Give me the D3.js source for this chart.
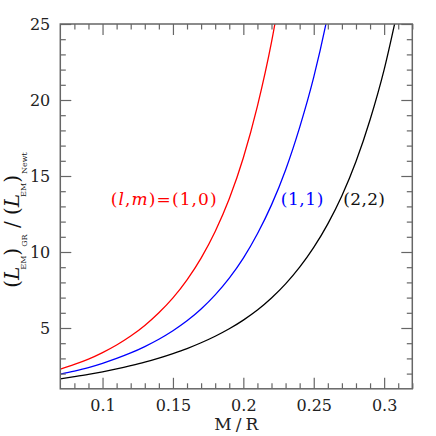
<!DOCTYPE html>
<html><head><meta charset="utf-8">
<script src="https://cdn.jsdelivr.net/npm/d3@7"></script>
<style>html,body{margin:0;padding:0;background:#fff}</style>
</head><body>
<svg id="c" width="436" height="436"></svg>
<script>
const xValues   = [0.07,0.08,0.09,0.10,0.11,0.12,0.13,0.14,0.15,0.16,0.17,0.18,0.19,0.20,0.21,0.22,0.23,0.24,0.25,0.26,0.27,0.28,0.29,0.30,0.31];
const series10  = [2.30,2.60,2.95,3.38,3.88,4.47,5.17,6.00,6.98,8.17,9.60,11.35,13.5,16.2,19.6,23.8,29.2];
const series11  = [1.97,2.17,2.40,2.68,3.00,3.36,3.78,4.26,4.82,5.47,6.25,7.18,8.28,9.60,11.2,13.1,15.4,18.2,21.5,25.6,30.6];
const series22  = [1.66,1.80,1.95,2.12,2.31,2.52,2.75,3.02,3.32,3.65,4.03,4.46,4.95,5.52,6.18,6.97,7.90,9.00,10.3,11.85,13.7,15.95,18.7,22.0,26.1];
const xTicks = [0.1,0.15,0.2,0.25,0.3];
const xTickLabels = ["0.1","0.15","0.2","0.25","0.3"];
const yTicks = [5,10,15,20,25];
const yTickLabels = ["5","10","15","20","25"];
const xDomain = [0.07,0.32];
const yDomain = [1,25];

const svg = d3.select("#c");
const L=60.3,R=412.3,T=24,B=388.8;
const x = d3.scaleLinear().domain(xDomain).range([L,R]);
const y = d3.scaleLinear().domain(yDomain).range([B,T]);
const frameColor="#666";
const font="DejaVu Serif";

svg.append("clipPath").attr("id","clip").append("rect")
  .attr("x",L).attr("y",T).attr("width",R-L).attr("height",B-T);

// curves
const curves=[{v:series10,c:"#ff0000"},{v:series11,c:"#0000ff"},{v:series22,c:"#000000"}];
const line=d3.line().x(d=>x(d[0])).y(d=>y(d[1])).curve(d3.curveMonotoneX);
curves.forEach(s=>{
  svg.append("path").attr("clip-path","url(#clip)")
    .attr("d",line(s.v.map((v,i)=>[xValues[i],v])))
    .attr("fill","none").attr("stroke",s.c).attr("stroke-width",1.3);
});

// axes with ticks on all four sides
const xMinor=d3.range(0.08,0.3201,0.01).map(v=>+v.toFixed(2)).filter(v=>!xTicks.some(t=>Math.abs(t-v)<1e-6));
const yMinor=d3.range(2,25,1).filter(v=>!yTicks.includes(v));
function ax(axisFn,scale,pos,ticks,size,fmt){
  const a=axisFn(scale).tickValues(ticks).tickSize(size).tickSizeOuter(0).tickFormat(fmt);
  const g=svg.append("g").attr("transform",pos).call(a);
  g.select(".domain").remove();
  g.selectAll(".tick line").attr("stroke",frameColor).attr("stroke-width",1.2);
  return g;
}
// bottom
ax(d3.axisTop,x,`translate(0,${B})`,xMinor,5.5,()=>"");
const gx=ax(d3.axisTop,x,`translate(0,${B})`,xTicks,11,(d,i)=>xTickLabels[i]);
gx.selectAll(".tick text").attr("y",22).attr("dy",0).attr("font-family",font).attr("font-size",16).attr("fill","#222");
// top
ax(d3.axisBottom,x,`translate(0,${T})`,xMinor,5.5,()=>"");
ax(d3.axisBottom,x,`translate(0,${T})`,xTicks,11,()=>"");
// left
ax(d3.axisRight,y,`translate(${L},0)`,yMinor,5.5,()=>"");
const gy=ax(d3.axisRight,y,`translate(${L},0)`,yTicks,11,(d,i)=>yTickLabels[i]);
gy.selectAll(".tick text").attr("x",-10).attr("text-anchor","end").attr("dy","0.36em").attr("font-family",font).attr("font-size",16).attr("fill","#222");
// right
ax(d3.axisLeft,y,`translate(${R},0)`,yMinor,5.5,()=>"");
ax(d3.axisLeft,y,`translate(${R},0)`,yTicks,11,()=>"");

svg.append("rect").attr("x",L).attr("y",T).attr("width",R-L).attr("height",B-T)
  .attr("fill","none").attr("stroke",frameColor).attr("stroke-width",1.5);

// x label
svg.append("text").attr("x",(L+R)/2).attr("y",430).attr("text-anchor","middle")
  .attr("font-family",font).attr("font-size",17).attr("fill","#222")
  .attr("textLength",44).attr("lengthAdjust","spacing").text("M/R");

// y label
const yl=svg.append("text").attr("transform","translate(19,220) rotate(-90)")
  .attr("text-anchor","middle").attr("font-family",font).attr("font-size",20).attr("fill","#111");
yl.append("tspan").text("(");
yl.append("tspan").attr("font-style","italic").text("L");
yl.append("tspan").attr("font-size",8).attr("dx",-3).attr("dy",7).text("EM");
yl.append("tspan").attr("dy",-7).text(")");
yl.append("tspan").attr("font-size",8).attr("dx",1).attr("dy",8).text("GR");
yl.append("tspan").attr("dy",-8).text(" / (");
yl.append("tspan").attr("font-style","italic").text("L");
yl.append("tspan").attr("font-size",8).attr("dx",-3).attr("dy",7).text("EM");
yl.append("tspan").attr("dy",-7).text(")");
yl.append("tspan").attr("font-size",8).attr("dx",1).attr("dy",8).text("Newt");

// curve labels
function lab(x0,len,color,parts){
  const t=svg.append("text").attr("x",x0).attr("y",205).attr("font-family",font).attr("font-size",17)
    .attr("fill",color).attr("textLength",len).attr("lengthAdjust","spacing");
  parts.forEach(p=>{const s=t.append("tspan").text(p[0]); if(p[1]) s.attr("font-style","italic");});
}
lab(110.7,106,"#ff0000",[["("],["l",1],[","],["m",1],[")=(1,0)"]]);
lab(280.7,42.6,"#0000ff",[["(1,1)"]]);
lab(343.3,41.7,"#111",[["(2,2)"]]);
</script>
</body></html>
